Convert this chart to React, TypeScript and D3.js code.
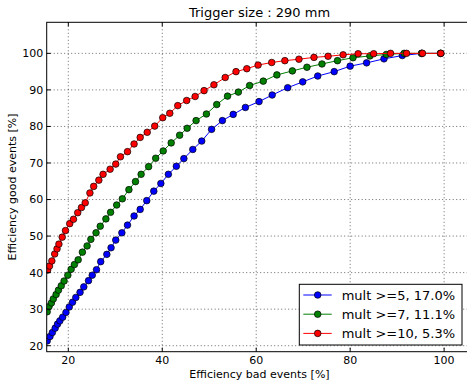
import React, { useEffect, useRef } from "react";
import * as d3 from "d3";

const title = "Trigger size : 290 mm";
const xLabel = "Efficiency bad events [%]";
const yLabel = "Efficiency good events [%]";
const xTicks = [20, 40, 60, 80, 100];
const yTicks = [20, 30, 40, 50, 60, 70, 80, 90, 100];

const seriesNames = ["mult >=5, 17.0%", "mult >=7, 11.1%", "mult >=10, 5.3%"];
const seriesColors = ["#0000ff", "#008000", "#ff0000"];

const blueX = [15.5, 16.1, 16.6, 17.2, 17.7, 18.2, 18.8, 19.5, 20.2, 20.9, 21.6, 22.5, 23.3, 24.3, 25.1, 26.0, 26.9, 28.2, 29.1, 30.1, 31.4, 32.6, 34.0, 35.3, 36.7, 38.2, 39.7, 41.3, 43.0, 44.6, 46.5, 48.4, 50.5, 52.8, 55.1, 57.7, 60.6, 63.4, 66.7, 69.9, 73.1, 76.6, 80.0, 83.5, 87.2, 91.1, 95.2, 99.3];
const blueY = [21.3, 22.5, 23.6, 24.8, 25.9, 26.8, 27.8, 29.1, 30.6, 31.9, 33.2, 34.6, 36.1, 37.8, 39.3, 40.8, 43.0, 45.0, 46.8, 48.9, 50.9, 53.0, 55.5, 57.3, 59.7, 62.3, 64.4, 66.9, 69.1, 71.2, 73.7, 76.0, 79.2, 81.6, 83.3, 85.2, 86.8, 88.6, 90.6, 92.2, 93.8, 95.0, 96.5, 97.4, 98.5, 99.4, 100, 100];

const greenX = [15.5, 15.9, 16.4, 16.8, 17.4, 17.9, 18.5, 19.1, 19.9, 20.6, 21.3, 22.1, 23.0, 24.0, 24.8, 25.9, 26.8, 28.0, 29.0, 30.3, 31.5, 32.9, 34.3, 35.5, 37.1, 38.6, 40.2, 41.9, 43.7, 45.3, 47.2, 49.4, 51.6, 53.9, 56.2, 58.6, 61.5, 64.4, 67.7, 70.8, 74.0, 77.3, 80.6, 84.2, 87.7, 91.5, 95.2, 99.2];
const greenY = [29.3, 30.7, 31.7, 32.8, 34.0, 35.2, 36.4, 37.7, 39.3, 40.9, 42.2, 43.5, 45.6, 47.3, 49.1, 50.9, 52.7, 54.7, 56.5, 58.5, 60.2, 62.7, 64.9, 66.9, 69.0, 71.3, 73.3, 75.5, 77.6, 79.5, 81.6, 83.4, 86.0, 88.3, 89.4, 91.2, 92.4, 94.1, 95.2, 96.2, 97.1, 98.0, 98.8, 99.3, 99.7, 100, 100, 100];

const redX = [15.6, 16.0, 16.5, 17.1, 17.6, 18.0, 18.7, 19.4, 20.3, 21.1, 22.0, 22.8, 23.6, 24.6, 25.4, 26.5, 27.4, 28.9, 30.1, 31.1, 32.6, 34.0, 35.3, 36.8, 38.4, 40.1, 41.6, 43.3, 45.2, 47.0, 48.9, 51.0, 53.4, 55.7, 58.0, 60.4, 63.3, 66.1, 69.1, 72.3, 75.3, 78.5, 81.7, 85.0, 88.6, 92.0, 95.4, 99.3];
const redY = [40.7, 41.8, 43.2, 45.1, 46.5, 47.8, 49.7, 51.5, 53.4, 54.6, 56.4, 57.8, 59.1, 61.8, 63.6, 65.3, 66.9, 68.3, 69.7, 71.7, 73.1, 75.2, 77.0, 78.4, 80.1, 82.4, 83.6, 85.7, 87.1, 88.2, 89.8, 91.4, 93.4, 95.0, 95.8, 96.8, 97.5, 98.0, 98.4, 98.9, 99.2, 99.6, 99.9, 99.9, 100, 100, 100, 100];

const W = 467;
const H = 380;
const FONT = "DejaVu Sans, sans-serif";

export default function App() {
  const ref = useRef<SVGSVGElement>(null);

  useEffect(() => {
    document.body.style.margin = "0";
    const svg = d3.select(ref.current);
    svg.selectAll("*").remove();

    const left = 46.7, right = 472.3, top = 22.3, bottom = 351.7;
    const x = d3.scaleLinear().domain([15.4, 106.0]).range([left, right]);
    const y = d3.scaleLinear().domain([18.36, 108.5]).range([bottom, top]);

    svg.append("rect").attr("width", W).attr("height", H).attr("fill", "#fff");

    const clipId = "plotclip";
    svg.append("defs").append("clipPath").attr("id", clipId)
      .append("rect").attr("x", left).attr("y", top).attr("width", right - left).attr("height", bottom - top);

    // grid
    const grid = svg.append("g");
    xTicks.forEach((t) => {
      grid.append("line").attr("x1", x(t)).attr("x2", x(t)).attr("y1", top).attr("y2", bottom)
        .attr("stroke", "#000").attr("stroke-width", 0.6).attr("stroke-dasharray", "1,2.5");
    });
    yTicks.forEach((t) => {
      grid.append("line").attr("x1", left).attr("x2", right).attr("y1", y(t)).attr("y2", y(t))
        .attr("stroke", "#000").attr("stroke-width", 0.6).attr("stroke-dasharray", "1,2.5");
    });

    const series = [
      { xs: blueX, ys: blueY },
      { xs: greenX, ys: greenY },
      { xs: redX, ys: redY },
    ];
    const plot = svg.append("g").attr("clip-path", `url(#${clipId})`);
    const line = d3.line<[number, number]>().x((d) => x(d[0])).y((d) => y(d[1]));
    series.forEach((s, i) => {
      const pts: [number, number][] = s.xs.map((v, j) => [v, s.ys[j]]);
      plot.append("path").attr("d", line(pts)).attr("fill", "none")
        .attr("stroke", seriesColors[i]).attr("stroke-width", 1);
      plot.selectAll(null).data(pts).enter().append("circle")
        .attr("cx", (d) => x(d[0])).attr("cy", (d) => y(d[1])).attr("r", 3.3)
        .attr("fill", seriesColors[i]).attr("stroke", "#000").attr("stroke-width", 0.7);
    });

    // frame
    svg.append("rect").attr("x", left).attr("y", top).attr("width", right - left).attr("height", bottom - top)
      .attr("fill", "none").attr("stroke", "#000").attr("stroke-width", 1);

    // ticks
    const tl = 4;
    xTicks.forEach((t) => {
      svg.append("line").attr("x1", x(t)).attr("x2", x(t)).attr("y1", bottom).attr("y2", bottom - tl)
        .attr("stroke", "#000").attr("stroke-width", 1);
      svg.append("line").attr("x1", x(t)).attr("x2", x(t)).attr("y1", top).attr("y2", top + tl)
        .attr("stroke", "#000").attr("stroke-width", 1);
      svg.append("text").attr("x", x(t)).attr("y", bottom + 12.5).attr("text-anchor", "middle")
        .attr("font-family", FONT).attr("font-size", 11).attr("fill", "#000").text(String(t));
    });
    yTicks.forEach((t) => {
      svg.append("line").attr("x1", left).attr("x2", left + tl).attr("y1", y(t)).attr("y2", y(t))
        .attr("stroke", "#000").attr("stroke-width", 1);
      svg.append("line").attr("x1", right).attr("x2", right - tl).attr("y1", y(t)).attr("y2", y(t))
        .attr("stroke", "#000").attr("stroke-width", 1);
      svg.append("text").attr("x", left - 3.5).attr("y", y(t)).attr("dy", "0.36em").attr("text-anchor", "end")
        .attr("font-family", FONT).attr("font-size", 11).attr("fill", "#000").text(String(t));
    });

    // labels
    const cx = (left + right) / 2;
    svg.append("text").attr("x", cx).attr("y", 378).attr("text-anchor", "middle")
      .attr("font-family", FONT).attr("font-size", 11).attr("fill", "#000").text(xLabel);
    svg.append("text").attr("transform", `translate(16,${(top + bottom) / 2}) rotate(-90)`)
      .attr("text-anchor", "middle").attr("font-family", FONT).attr("font-size", 11).attr("fill", "#000").text(yLabel);
    svg.append("text").attr("x", cx).attr("y", 17).attr("text-anchor", "middle")
      .attr("font-family", FONT).attr("font-size", 13).attr("fill", "#000").text(title);

    // legend
    const lg = svg.append("g");
    const lx = 299.3, ly = 284.3, lw = 162.7, lh = 60.7;
    lg.append("rect").attr("x", lx).attr("y", ly).attr("width", lw).attr("height", lh)
      .attr("fill", "#fff").attr("stroke", "#000").attr("stroke-width", 1);
    seriesNames.forEach((name, i) => {
      const ry = 295 + i * 19.2;
      lg.append("line").attr("x1", 303.3).attr("x2", 331.7).attr("y1", ry).attr("y2", ry)
        .attr("stroke", seriesColors[i]).attr("stroke-width", 1);
      lg.append("circle").attr("cx", 317.7).attr("cy", ry).attr("r", 3.3)
        .attr("fill", seriesColors[i]).attr("stroke", "#000").attr("stroke-width", 0.7);
      lg.append("text").attr("x", 341.7).attr("y", ry).attr("dy", "0.36em")
        .attr("font-family", FONT).attr("font-size", 13).attr("fill", "#000").text(name);
    });
  }, []);

  return <svg ref={ref} width={W} height={H} style={{ display: "block", position: "absolute", left: 0, top: 0 }} />;
}
